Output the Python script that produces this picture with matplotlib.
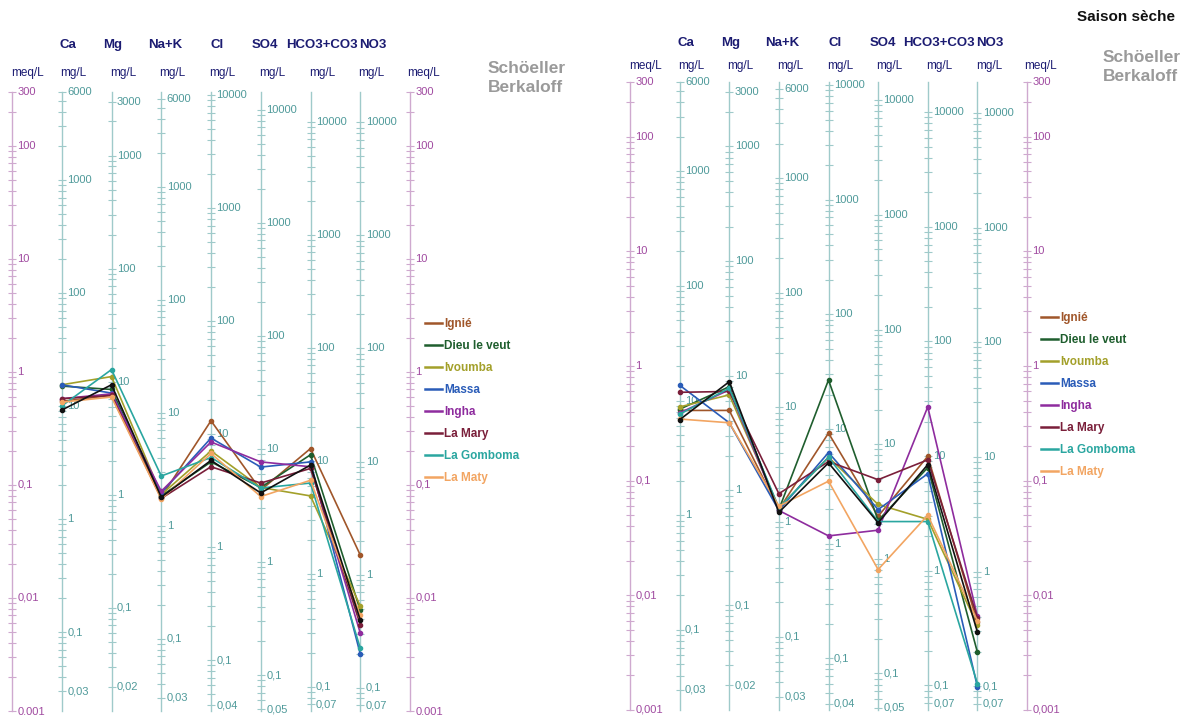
"""Schoeller-Berkaloff diagrams, two seasons side by side."""

import matplotlib
matplotlib.use("Agg")
import matplotlib.pyplot as plt
import matplotlib.transforms as mtransforms
from matplotlib.lines import Line2D

plt.rcParams["font.family"] = ["Liberation Sans", "DejaVu Sans"]

# --- data (meq/L) ------------------------------------------------------
IONS = ["Ca", "Mg", "Na+K", "Cl", "SO4", "HCO3+CO3", "NO3"]
EQ_WEIGHT = [20.04, 12.16, 23.0, 35.45, 48.03, 61.02, 62.0]
STATIONS = ["Ignié", "Dieu le veut", "Ivoumba", "Massa", "Ingha",
            "La Mary", "La Gomboma", "La Maty"]
COLORS = ["#a0562a", "#1f5e2e", "#a3a02a", "#2a5cb8", "#8e2c9e",
          "#7a1f3a", "#2aa6a0", "#f2a562"]
EXTRA_COLOR = "#111111"  # unlabelled black series

# left panel
LEFT_IGNIE = [0.55, 0.62, 0.078, 0.37, 0.09, 0.21, 0.024]
LEFT_DIEU = [0.75, 0.70, 0.080, 0.16, 0.095, 0.185, 0.0078]
LEFT_IVOUMBA = [0.77, 0.91, 0.082, 0.20, 0.095, 0.080, 0.0085]
LEFT_MASSA = [0.77, 0.65, 0.085, 0.26, 0.144, 0.16, 0.0032]
LEFT_INGHA = [0.58, 0.64, 0.088, 0.24, 0.16, 0.145, 0.0049]
LEFT_MARY = [0.58, 0.62, 0.076, 0.145, 0.104, 0.14, 0.0058]
LEFT_GOMBOMA = [0.50, 1.05, 0.12, 0.175, 0.094, 0.104, 0.0036]
LEFT_MATY = [0.54, 0.60, 0.075, 0.19, 0.079, 0.11, 0.0070]
LEFT_EXTRA = [0.46, 0.77, 0.078, 0.165, 0.085, 0.15, 0.0064]

# right panel (saison seche)
RIGHT_IGNIE = [0.41, 0.41, 0.056, 0.26, 0.049, 0.163, 0.0058]
RIGHT_DIEU = [0.42, 0.66, 0.056, 0.755, 0.045, 0.13, 0.0032]
RIGHT_IVOUMBA = [0.44, 0.56, 0.058, 0.16, 0.062, 0.046, 0.0055]
RIGHT_MASSA = [0.68, 0.32, 0.055, 0.176, 0.056, 0.115, 0.0016]
RIGHT_INGHA = [0.39, 0.62, 0.055, 0.033, 0.037, 0.44, 0.0066]
RIGHT_MARY = [0.59, 0.60, 0.077, 0.147, 0.102, 0.152, 0.0064]
RIGHT_GOMBOMA = [0.38, 0.64, 0.058, 0.16, 0.044, 0.044, 0.0017]
RIGHT_MATY = [0.345, 0.32, 0.060, 0.099, 0.0168, 0.050, 0.0060]
RIGHT_EXTRA = [0.34, 0.73, 0.053, 0.143, 0.043, 0.138, 0.0048]

MEQ_LABELS = [300, 100, 10, 1, 0.1, 0.01, 0.001]
MG_LABELS = [
    [6000, 1000, 100, 10, 1, 0.1, 0.03],
    [3000, 1000, 100, 10, 1, 0.1, 0.02],
    [6000, 1000, 100, 10, 1, 0.1, 0.03],
    [10000, 1000, 100, 10, 1, 0.1, 0.04],
    [10000, 1000, 100, 10, 1, 0.1, 0.05],
    [10000, 1000, 100, 10, 1, 0.1, 0.07],
    [10000, 1000, 100, 10, 1, 0.1, 0.07],
]

YMIN, YMAX = 0.001, 300
W, H = 1183, 715

MEQ_LINE = "#cfa9cf"
MEQ_TEXT = "#a04aa0"
MG_LINE = "#9fcaca"
MG_TEXT = "#4f9a9a"
HEAD = "#1c1c72"


def fmt(v):
    if v >= 1:
        return str(int(v))
    return f"{v:g}".replace(".", ",")


def log_ticks(lo, hi):
    out = []
    for e in range(-4, 6):
        for k in range(1, 10):
            v = k * 10.0 ** e
            if lo * 0.999 <= v <= hi * 1.001:
                out.append(v)
    return out


def draw_axis(ax, x, factor, labels, line_c, text_c):
    ax.plot([x, x], [YMIN, YMAX], color=line_c, lw=1.0, clip_on=False, zorder=1)
    ticks = [t / factor for t in log_ticks(YMIN * factor, YMAX * factor)]
    ax.plot([x] * len(ticks), ticks, ls="none", marker="_", ms=6, mew=0.8,
            color=line_c, clip_on=False, zorder=1)
    for v in labels:
        ax.text(x + 0.11, v / factor, fmt(v), ha="left", va="center",
                fontsize=8, color=text_c, zorder=2)


def draw_panel(fig, rect, series, legend_xy, head_y, unit_y, school_xy):
    ax = fig.add_axes(rect)
    ax.set_yscale("log")
    ax.set_ylim(YMIN, YMAX)
    ax.set_xlim(0, 8)
    ax.axis("off")

    draw_axis(ax, 0, 1.0, MEQ_LABELS, MEQ_LINE, MEQ_TEXT)
    draw_axis(ax, 8, 1.0, MEQ_LABELS, MEQ_LINE, MEQ_TEXT)
    for i, (w, labs) in enumerate(zip(EQ_WEIGHT, MG_LABELS)):
        draw_axis(ax, i + 1, w, labs, MG_LINE, MG_TEXT)

    xs = list(range(1, len(IONS) + 1))
    for vals, color in series:
        ax.plot(xs, vals, color=color, lw=1.2, marker="o", ms=3.0,
                clip_on=False, zorder=3)

    trans = mtransforms.blended_transform_factory(ax.transData, fig.transFigure)
    head_off = [0.13, 0.02, 0.07, 0.13, 0.09, 0.23, 0.26]
    for i, (name, off) in enumerate(zip(IONS, head_off)):
        ax.text(i + 1 + off, 1 - head_y / H, name, transform=trans,
                ha="center", va="center", fontsize=9.5, fontweight="bold",
                color=HEAD)
    units = ["meq/L"] + ["mg/L"] * len(IONS) + ["meq/L"]
    unit_off = [0.32] + [0.23] * len(IONS) + [0.28]
    for i, (u, off) in enumerate(zip(units, unit_off)):
        ax.text(i + off, 1 - unit_y / H, u, transform=trans, ha="center",
                va="center", fontsize=8.5, color=HEAD)

    fig.text(school_xy[0] / W, 1 - school_xy[1] / H, "Schöeller\nBerkaloff",
             ha="left", va="top", fontsize=12.5, fontweight="bold",
             color="#9a9a9a", linespacing=1.3)

    handles = [Line2D([], [], color=c, lw=1.8) for _, c in series[:len(STATIONS)]]
    fig.legend(handles, STATIONS, loc="upper left",
               bbox_to_anchor=(legend_xy[0] / W, 1 - legend_xy[1] / H),
               frameon=False, labelcolor="linecolor",
               prop={"size": 8.5, "weight": "bold"},
               handlelength=1.4, handletextpad=0.25, labelspacing=0.85,
               borderaxespad=0, borderpad=0)
    return ax


fig = plt.figure(figsize=(W / 100, H / 100), dpi=100)

left_series = list(zip(
    [LEFT_IGNIE, LEFT_DIEU, LEFT_IVOUMBA, LEFT_MASSA, LEFT_INGHA,
     LEFT_MARY, LEFT_GOMBOMA, LEFT_MATY], COLORS)) + [(LEFT_EXTRA, EXTRA_COLOR)]
right_series = list(zip(
    [RIGHT_IGNIE, RIGHT_DIEU, RIGHT_IVOUMBA, RIGHT_MASSA, RIGHT_INGHA,
     RIGHT_MARY, RIGHT_GOMBOMA, RIGHT_MATY], COLORS)) + [(RIGHT_EXTRA, EXTRA_COLOR)]

# left panel: axis from x=12 to 410 px, y 711 (0.001) to 92 (300)
draw_panel(fig, [12 / W, (H - 711) / H, 398 / W, 619 / H], left_series,
           legend_xy=(425, 318), head_y=45, unit_y=73, school_xy=(488, 61))
# right panel: axis from x=630 to 1027 px, y 710 to 82
draw_panel(fig, [630 / W, (H - 710) / H, 397 / W, 628 / H], right_series,
           legend_xy=(1041, 312), head_y=43, unit_y=66, school_xy=(1103, 50))

fig.text(1175 / W, 1 - 17 / H, "Saison sèche", ha="right", va="center",
         fontsize=11, fontweight="bold", color="#111111")

fig.savefig("out.png", dpi=100)
